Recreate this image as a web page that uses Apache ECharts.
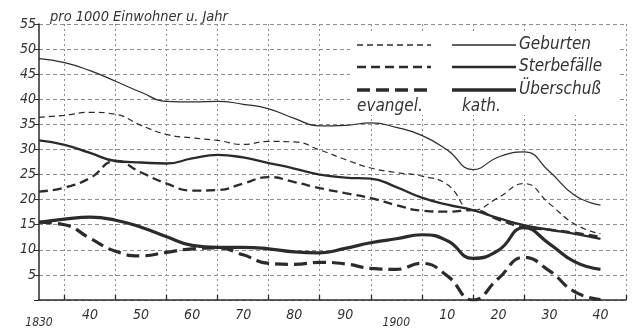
<!DOCTYPE html>
<html><head><meta charset="utf-8">
<script src="https://cdn.jsdelivr.net/npm/echarts@6/dist/echarts.min.js"></script>
<style>html,body{margin:0;padding:0;background:#fff}#c{width:633px;height:329px}</style>
</head><body><div id="c"></div>
<script>
const years = [1830,1835,1840,1845,1850,1855,1860,1865,1870,1875,1880,1885,1890,1895,1900,1905,1910,1915,1920,1925,1930,1935,1940];
const kathGeburten = [48.1,47.3,45.7,43.6,41.4,39.6,39.5,39.6,39.0,38.1,36.2,34.7,34.8,35.3,34.4,32.8,29.9,26.0,28.5,29.5,25.6,20.8,18.9];
const evGeburten   = [36.4,36.8,37.4,37.0,34.8,33.0,32.3,31.8,31.0,31.6,31.5,29.9,28.0,26.3,25.4,24.7,23.0,17.9,20.4,23.2,19.2,15.1,13.2];
const kathSterbe   = [31.8,30.9,29.3,27.7,27.4,27.2,28.2,28.9,28.4,27.3,26.2,25.0,24.4,24.2,22.5,20.4,19.0,17.9,16.3,14.9,14.0,13.2,12.2];
const evSterbe     = [21.6,22.4,24.3,27.7,25.4,23.2,21.8,21.9,23.2,24.5,23.5,22.3,21.3,20.3,18.9,17.8,17.6,17.9,16.0,14.5,14.0,13.4,12.6];
const kathUeber    = [15.5,16.1,16.5,15.9,14.5,12.6,10.9,10.5,10.5,10.2,9.6,9.4,10.3,11.4,12.2,13.0,11.8,8.3,9.9,14.4,11.2,7.6,6.1];
const evUeber      = [15.5,15.0,12.3,9.7,8.8,9.5,10.2,10.4,9.0,7.3,7.1,7.5,7.2,6.3,6.1,7.3,4.8,0.0,4.3,8.5,5.8,1.6,0.1];
const xLabelYears = [1830,1840,1850,1860,1870,1880,1890,1900,1910,1920,1930,1940];
const xTickYears  = [1835,1845,1855,1865,1875,1885,1895,1905,1915,1925,1935,1945];
const yearFull = [1830,1900];
const titleText = 'pro 1000 Einwohner u. Jahr';
const legendRows = ['Geburten','Sterbefälle','Überschuß'];
const legendCols = ['evangel.','kath.'];

const FONT = "'Liberation Sans Narrow','DejaVu Sans Condensed','Liberation Sans',sans-serif";
const INK = '#2b2b2b';
const pair = arr => years.map((y,i)=>[y,arr[i]]);
function line(name, arr, width, type){
  return {name, type:'line', data:pair(arr), smooth:0.5, showSymbol:false, symbol:'none',
    lineStyle:{color:INK, width, type, cap:'butt'}, z: 3};
}
const chart = echarts.init(document.getElementById('c'), null, {renderer:'canvas'});
const styles = [
  {w:1.2, evType:[6,4]},
  {w:2.3, evType:[9,5]},
  {w:3.2, evType:[13,6]}
];
const legendGraphics = [
  {type:'rect', shape:{x:350,y:31,width:268,height:84}, style:{fill:'#fff'}, z:50}
];
const rowY = [45,67,90];
rowY.forEach((y,i)=>{
  legendGraphics.push({type:'line', shape:{x1:357,y1:y,x2:431,y2:y}, style:{stroke:INK, lineWidth:styles[i].w+0.3, lineDash:styles[i].evType}, z:51});
  legendGraphics.push({type:'line', shape:{x1:452,y1:y,x2:516,y2:y}, style:{stroke:INK, lineWidth:styles[i].w+0.3}, z:51});
  legendGraphics.push({type:'text', style:{x:519,y:y,text:legendRows[i],font:'italic 17px '+FONT,fill:'#333',textVerticalAlign:'middle'}, z:51});
});
legendGraphics.push({type:'text', style:{x:357,y:107,text:legendCols[0],font:'italic 17px '+FONT,fill:'#333',textVerticalAlign:'middle'}, z:51});
legendGraphics.push({type:'text', style:{x:462,y:107,text:legendCols[1],font:'italic 17px '+FONT,fill:'#333',textVerticalAlign:'middle'}, z:51});
legendGraphics.push({type:'text', style:{x:50,y:17,text:titleText,font:'italic 14.5px '+FONT,fill:'#333',textVerticalAlign:'middle'}, z:51});

chart.setOption({
  animation:false,
  backgroundColor:'#fff',
  grid:{left:39, right:7, top:24, bottom:25, containLabel:false},
  xAxis:{type:'value', min:1830, max:1945,
    axisLine:{show:true, lineStyle:{color:INK, width:1.5}},
    axisTick:{show:true, inside:true, length:5, customValues:xTickYears, lineStyle:{color:INK,width:1.3}},
    axisLabel:{customValues:xLabelYears, margin:8,
      formatter:v => yearFull.includes(v) ? '{b|'+v+'}' : '{a|'+String(v%100).padStart(2,'0')+'}',
      rich:{a:{fontFamily:FONT,fontStyle:'italic',fontSize:14,color:'#333'},
            b:{fontFamily:FONT,fontStyle:'italic',fontSize:12,color:'#333',padding:[9,0,0,0]}}},
    splitLine:{show:true, lineStyle:{color:'#8c8c8c', width:1, type:[2,3]}}
  },
  yAxis:{type:'value', min:0, max:55, interval:5,
    axisLine:{show:true, lineStyle:{color:INK, width:1.5}},
    axisTick:{show:true, length:5, lineStyle:{color:INK}},
    axisLabel:{margin:3, fontFamily:FONT, fontStyle:'italic', fontSize:14, color:'#333',
      formatter:v => v===0 ? '' : String(v)},
    splitLine:{show:true, lineStyle:{color:'#8c8c8c', width:1, type:[4,3]}}
  },
  series:[
    line('kath. Geburten', kathGeburten, styles[0].w, 'solid'),
    line('evangel. Geburten', evGeburten, styles[0].w, styles[0].evType),
    line('kath. Sterbefälle', kathSterbe, styles[1].w, 'solid'),
    line('evangel. Sterbefälle', evSterbe, styles[1].w, styles[1].evType),
    line('kath. Überschuß', kathUeber, styles[2].w, 'solid'),
    line('evangel. Überschuß', evUeber, styles[2].w, styles[2].evType)
  ],
  graphic: legendGraphics
});
</script></body></html>
